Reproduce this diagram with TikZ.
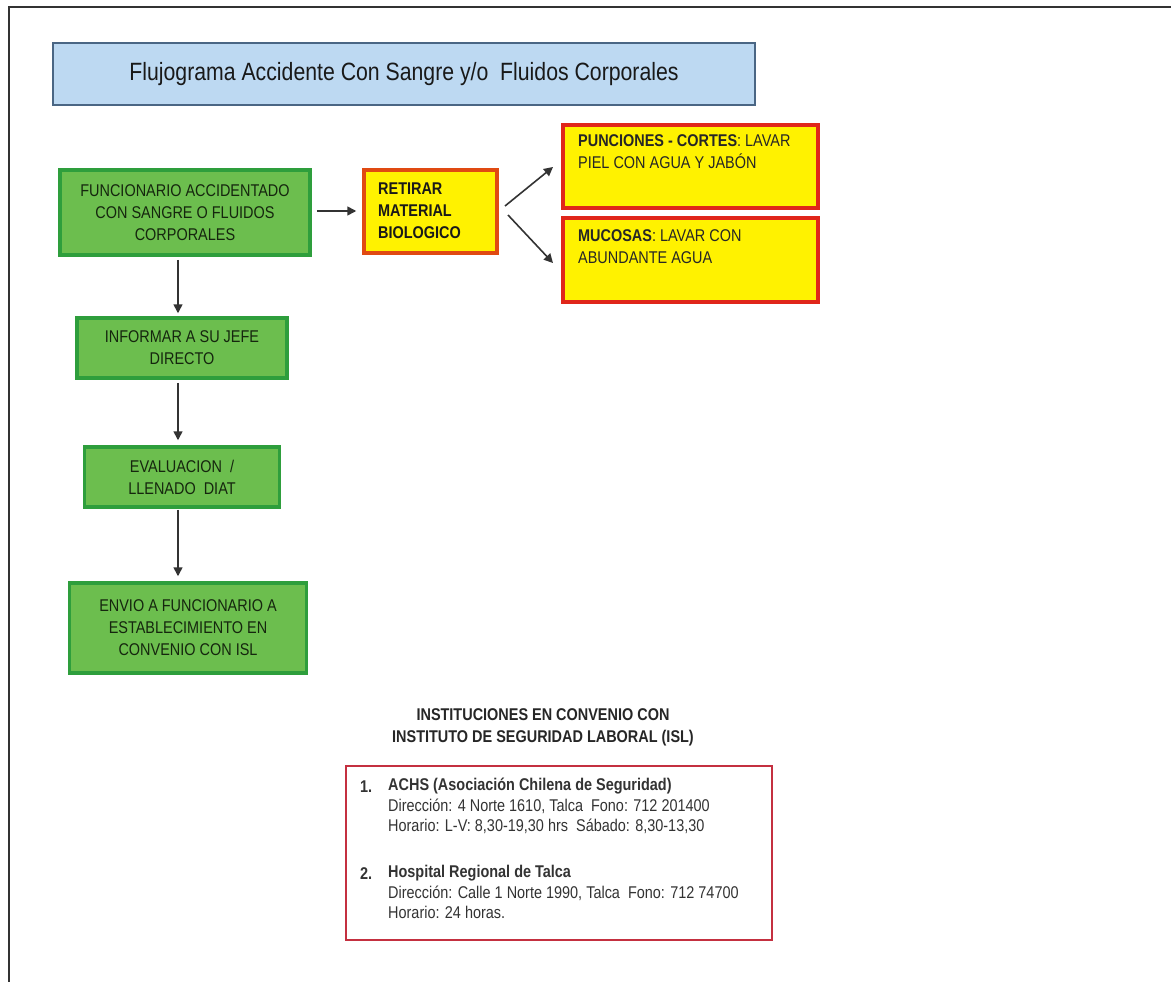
\documentclass[tikz,border=0pt]{standalone}
\usepackage{fontspec}
\setmainfont{Liberation Sans}[FakeStretch=0.85]
\usetikzlibrary{arrows.meta}
\definecolor{gfill}{HTML}{6CBE4E}
\definecolor{gdraw}{HTML}{2E9E3C}
\definecolor{gtext}{HTML}{15260E}
\definecolor{tfill}{HTML}{BDD9F2}
\definecolor{tdraw}{HTML}{4A6684}
\definecolor{ydraw}{HTML}{E0261A}
\definecolor{odraw}{HTML}{E04A12}
\definecolor{rdraw}{HTML}{C43040}
\definecolor{lnk}{HTML}{333333}
\begin{document}
\begin{tikzpicture}[x=1pt,y=-1pt,
  gbox/.style={draw=gdraw,fill=gfill,line width=3.5pt,align=center,text=gtext,
    font=\fontsize{17}{22}\selectfont,inner sep=0pt},
  ybox/.style={draw=ydraw,fill=yellow,line width=3.5pt,align=left,text=black!85,
    font=\fontsize{17}{22}\selectfont,inner sep=0pt},
  conn/.style={draw=lnk,line width=1.6pt,-{Triangle[length=9pt,width=9pt]}},
  txt/.style={font=\fontsize{17}{20.5}\selectfont,text=black!80,inner sep=0pt}]
\useasboundingbox (0,0) rectangle (1171,982);
\fill[white] (0,0) rectangle (1171,982);
% outer frame
\draw[line width=2pt,black!80] (1171,7) -- (9,7) -- (9,982);
% title
\node[draw=tdraw,fill=tfill,line width=2.5pt,minimum width=702pt,minimum height=62pt,
  font=\fontsize{25}{30}\selectfont,text=black!90,inner sep=0pt] (title) at (404,74)
  {Flujograma Accidente Con Sangre y/o\ \ Fluidos Corporales};
% green boxes
\node[gbox,minimum width=250pt,minimum height=85pt] (g1) at (185,212.5)
  {FUNCIONARIO ACCIDENTADO\\CON SANGRE O FLUIDOS\\CORPORALES};
\node[gbox,minimum width=210pt,minimum height=60pt] (g2) at (182,348)
  {INFORMAR A SU JEFE\\DIRECTO};
\node[gbox,minimum width=195pt,minimum height=60pt] (g3) at (182,477)
  {EVALUACION\ \ /\\LLENADO\ \ DIAT};
\node[gbox,minimum width=237pt,minimum height=90pt] (g4) at (188,628)
  {ENVIO A FUNCIONARIO A\\ESTABLECIMIENTO EN\\CONVENIO CON ISL};
% yellow boxes
\node[ybox,draw=odraw,minimum width=133pt,minimum height=83pt] (ret) at (430.5,211.5) {};
\node[font=\fontsize{17}{22}\selectfont\bfseries,align=left,anchor=west,inner sep=0pt,text=black!90] (rett) at (378,211)
  {RETIRAR\\MATERIAL\\BIOLOGICO};
\node[ybox,minimum width=255pt,minimum height=83pt] (pun) at (690.5,166.5) {};
\node[font=\fontsize{17}{22}\selectfont,align=left,anchor=north west,inner sep=0pt,text=black!85] (punt) at (578,134)
  {\textbf{PUNCIONES - CORTES}: LAVAR\\PIEL CON AGUA Y JABÓN};
\node[ybox,minimum width=255pt,minimum height=84pt] (muc) at (690.5,260) {};
\node[font=\fontsize{17}{22}\selectfont,align=left,anchor=north west,inner sep=0pt,text=black!85] (muct) at (578,229)
  {\textbf{MUCOSAS}: LAVAR CON\\ABUNDANTE AGUA};
% connectors
\coordinate (ax) at (178,0);
\coordinate (hy) at (0,211);
\coordinate (rA) at (505,206);
\coordinate (rB) at (508,215);
\coordinate (pA) at (553,167);
\coordinate (mB) at (553,263);
\draw[conn] ([xshift=5pt]g1.east |- hy) -- ([xshift=-6pt]ret.west |- hy);
\draw[conn] (rA) -- (pA);
\draw[conn] (rB) -- (mB);
\draw[conn] ([yshift=-3pt]g1.south -| ax) -- ([yshift=3pt]g2.north -| ax);
\draw[conn] ([yshift=-3pt]g2.south -| ax) -- ([yshift=5pt]g3.north -| ax);
\draw[conn] ([yshift=-1pt]g3.south -| ax) -- ([yshift=5pt]g4.north -| ax);
% institutions
\node[font=\fontsize{17}{22}\selectfont\bfseries,align=center,text=black!85,inner sep=0pt] (head) at (543,727)
  {INSTITUCIONES EN CONVENIO CON\\INSTITUTO DE SEGURIDAD LABORAL (ISL)};
\node[draw=rdraw,line width=2.5pt,minimum width=426pt,minimum height=174pt,inner sep=0pt] (inst) at (559,853) {};
\node[txt,anchor=west] (n1) at (360,787) {\textbf{1.}};
\node[txt,anchor=north west,align=left] (i1) at (388,778)
  {\textbf{ACHS (Asociación Chilena de Seguridad)}\\
   Dirección: 4 Norte 1610, Talca\ \ Fono: 712 201400\\
   Horario: L-V: 8,30-19,30 hrs\ \ Sábado: 8,30-13,30};
\node[txt,anchor=west] (n2) at (360,874) {\textbf{2.}};
\node[txt,anchor=north west,align=left] (i2) at (388,865)
  {\textbf{Hospital Regional de Talca}\\
   Dirección: Calle 1 Norte 1990, Talca\ \ Fono: 712 74700\\
   Horario: 24 horas.};
\end{tikzpicture}
\end{document}
